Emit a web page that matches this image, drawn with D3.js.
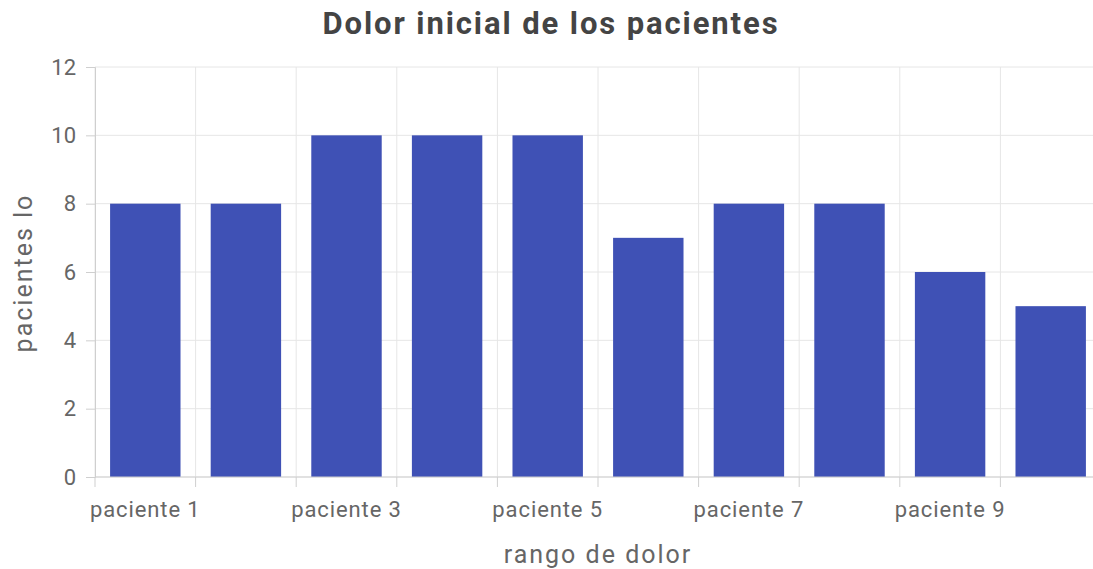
<!DOCTYPE html>
<html>
<head>
<meta charset="utf-8">
<script src="https://cdn.jsdelivr.net/npm/d3@7"></script>
<style>
  html, body { margin: 0; padding: 0; background: #fff; overflow: hidden; }
  svg { display: block; font-family: Roboto, "Noto Sans", sans-serif; }
</style>
</head>
<body>
<svg id="chart" width="1093" height="569"></svg>
<script>
// Patient pain data
const categories = ["paciente 1", "paciente 2", "paciente 3", "paciente 4", "paciente 5",
                    "paciente 6", "paciente 7", "paciente 8", "paciente 9", "paciente 10"];
const values = [8, 8, 10, 10, 10, 7, 8, 8, 6, 5];
const yTicks = [0, 2, 4, 6, 8, 10, 12];

const title = "Dolor inicial de los pacientes";
const xTitle = "rango de dolor";
const yTitle = "pacientes lo";

const svg = d3.select("#chart");
const plotLeft = 95, plotTop = 67, plotBottom = 477, plotRight = 1101;

const x = d3.scaleBand().domain(categories).range([plotLeft, plotRight]).padding(0);
const y = d3.scaleLinear().domain([0, 12]).range([plotBottom, plotTop]);

const gridColor = "#e6e6e6";
const axisColor = "#cfcfcf";
const textColor = "#666";

// horizontal grid
svg.append("g").selectAll("line").data(yTicks).join("line")
  .attr("x1", plotLeft).attr("x2", plotRight)
  .attr("y1", d => y(d)).attr("y2", d => y(d))
  .attr("stroke", gridColor).attr("stroke-width", 1);

// vertical grid on band boundaries
svg.append("g").selectAll("line").data(categories).join("line")
  .attr("x1", d => x(d)).attr("x2", d => x(d))
  .attr("y1", plotTop).attr("y2", plotBottom)
  .attr("stroke", gridColor).attr("stroke-width", 1);

// bars
const bw = x.bandwidth();
svg.append("g").selectAll("rect").data(values).join("rect")
  .attr("x", (d, i) => x(categories[i]) + bw * 0.15)
  .attr("width", bw * 0.7)
  .attr("y", d => y(d))
  .attr("height", d => y(0) - y(d))
  .attr("fill", "#3f51b5");

// y axis
const yAxis = d3.axisLeft(y).tickValues(yTicks).tickSize(9).tickPadding(10);
const gy = svg.append("g").attr("transform", `translate(${plotLeft},0)`).call(yAxis);
gy.select(".domain").attr("stroke", axisColor);
gy.selectAll(".tick line").attr("stroke", axisColor);
gy.selectAll(".tick text").attr("fill", textColor).attr("font-size", 22)
  .attr("font-family", "Roboto, sans-serif");

// x axis: tick marks at band boundaries, labels at band centres (every other)
const gx = svg.append("g");
gx.append("line").attr("x1", plotLeft).attr("x2", plotRight)
  .attr("y1", plotBottom).attr("y2", plotBottom).attr("stroke", axisColor);
gx.selectAll("line.tk").data(categories).join("line").attr("class", "tk")
  .attr("x1", d => x(d)).attr("x2", d => x(d))
  .attr("y1", plotBottom).attr("y2", plotBottom + 10)
  .attr("stroke", axisColor);
gx.selectAll("text").data(categories.filter((d, i) => i % 2 === 0)).join("text")
  .attr("x", d => x(d) + bw / 2)
  .attr("y", 517)
  .attr("text-anchor", "middle")
  .attr("fill", textColor)
  .attr("font-size", 22)
  .attr("letter-spacing", 0.9)
  .text(d => d);

// titles
svg.append("text").attr("x", 551).attr("y", 34)
  .attr("text-anchor", "middle").attr("font-weight", "bold")
  .attr("font-size", 31).attr("letter-spacing", 1.9)
  .attr("fill", "#444").text(title);

svg.append("text").attr("x", 598).attr("y", 563)
  .attr("text-anchor", "middle").attr("font-size", 25)
  .attr("letter-spacing", 2)
  .attr("fill", textColor).text(xTitle);

svg.append("text")
  .attr("transform", `translate(32, 273) rotate(-90)`)
  .attr("text-anchor", "middle").attr("font-size", 25)
  .attr("letter-spacing", 2)
  .attr("fill", textColor).text(yTitle);
</script>
</body>
</html>
